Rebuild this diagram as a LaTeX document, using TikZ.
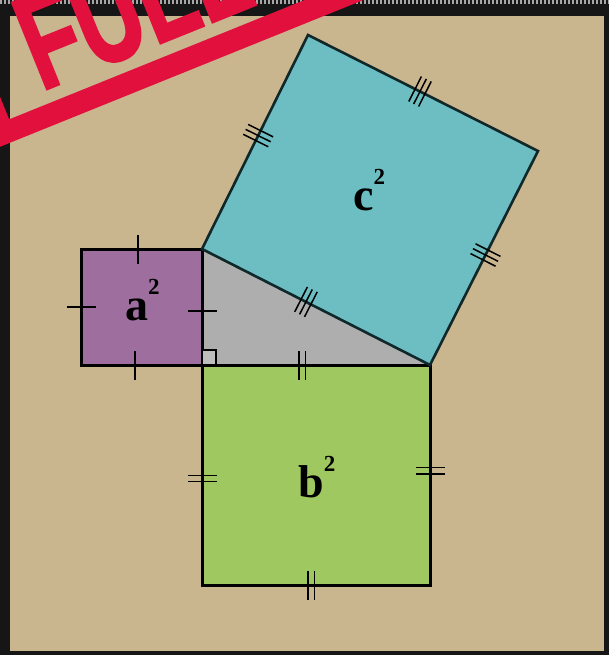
\documentclass[tikz,border=0pt]{standalone}
\usepackage{fontspec}
\setmainfont{Liberation Serif}
\newfontfamily\stampfont[FakeBold=2]{Liberation Sans}
\usetikzlibrary{decorations.markings}
\definecolor{framecol}{HTML}{161616}
\definecolor{paper}{HTML}{CAB68E}
\definecolor{sqa}{HTML}{9E6E9E}
\definecolor{sqb}{HTML}{A0C860}
\definecolor{sqc}{HTML}{6CBEC2}
\definecolor{tri}{HTML}{AEAEAE}
\definecolor{stampred}{HTML}{E2103C}
\definecolor{cedge}{HTML}{10282A}
\tikzset{
  tickline/.style={line width=1.5pt, black},
  tickA/.style={postaction=decorate, decoration={markings,
      mark=at position #1 with {\draw[tickline] (0pt,-14.5pt)--(0pt,14.5pt);}}},
  tickB/.style={postaction=decorate, decoration={markings,
      mark=at position #1 with {\draw[tickline] (-3.2pt,-14.5pt)--(-3.2pt,14.5pt);
                                \draw[tickline] (3.2pt,-14.5pt)--(3.2pt,14.5pt);}}},
  tickC/.style={postaction=decorate, decoration={markings,
      mark=at position #1 with {\draw[tickline] (-5.5pt,-14pt)--(-5.5pt,14pt);
                                \draw[tickline] (0pt,-14pt)--(0pt,14pt);
                                \draw[tickline] (5.5pt,-14pt)--(5.5pt,14pt);}}},
  lbl/.style={anchor=base west, inner sep=0pt, font=\bfseries\fontsize{46}{46}\selectfont},
}
\newcommand{\supnum}{\raisebox{26pt}{\fontsize{23}{23}\selectfont 2}}
\begin{document}
\begin{tikzpicture}[x=1pt,y=-1pt]
\useasboundingbox (0,0) rectangle (609,655);
% frame and paper
\fill[framecol] (0,0) rectangle (609,655);
\draw[gray!70, line width=4pt, dash pattern=on 2pt off 2pt] (0,2) -- (609,2);
\fill[paper] (9.5,16) rectangle (604,651);

% key points
\coordinate (A) at (202,249);
\coordinate (R) at (202,365);
\coordinate (C) at (430,365);
\coordinate (TL) at (308,35);
\coordinate (TR) at (538,151);
\coordinate (aTL) at (81,249);
\coordinate (aBL) at (81,365);
\coordinate (bBL) at (202,585);
\coordinate (bBR) at (430,585);

% triangle
\fill[tri] (A) -- (R) -- (C) -- cycle;

% squares
\filldraw[sqa, draw=black, line width=3pt] (aTL) -- (A) -- (R) -- (aBL) -- cycle;
\filldraw[sqb, draw=black, line width=3pt] (R) -- (C) -- (bBR) -- (bBL) -- cycle;
\filldraw[sqc, draw=cedge, line width=2.6pt, line join=miter] (A) -- (TL) -- (TR) -- (C) -- cycle;
\draw[line width=1.8pt, fill=tri!80!white] (202,350) rectangle (216,365);

% tick marks a
\path[tickA=0.47] (aTL) -- (A);
\path[tickA=0.446] (aBL) -- (R);
\path[tickA=0.50] (aTL) -- (aBL);
\path[tickA=0.535] (A) -- (R);
% tick marks b
\path[tickB=0.44] (R) -- (C);
\path[tickB=0.48] (bBL) -- (bBR);
\path[tickB=0.516] (R) -- (bBL);
\path[tickB=0.48] (C) -- (bBR);
% tick marks c
\path[tickC=0.53] (A) -- (TL);
\path[tickC=0.487] (TL) -- (TR);
\path[tickC=0.486] (TR) -- (C);
\path[tickC=0.456] (A) -- (C);

% labels
\node[lbl] (la) at (125,320) {a\supnum};
\node[lbl] (lb) at (298,497) {b\supnum};
\node[lbl] (lc) at (353,210) {c\supnum};

% stamp
\begin{scope}
\clip (0,0) rectangle (609,655);
\begin{scope}[shift={(-3,148)}, rotate=22]
  \draw[stampred, line width=22pt] (11pt,11pt) rectangle (700pt,400pt);
  \begin{scope}[shift={(62pt,36pt)}, xscale=0.68]
    \node[anchor=base west, inner sep=0pt, text=stampred, transform shape,
          font=\stampfont\bfseries\fontsize{135}{135}\selectfont] (stamp) at (0pt,0pt) {FULL};
  \end{scope}
\end{scope}
\end{scope}
\end{tikzpicture}
\end{document}
